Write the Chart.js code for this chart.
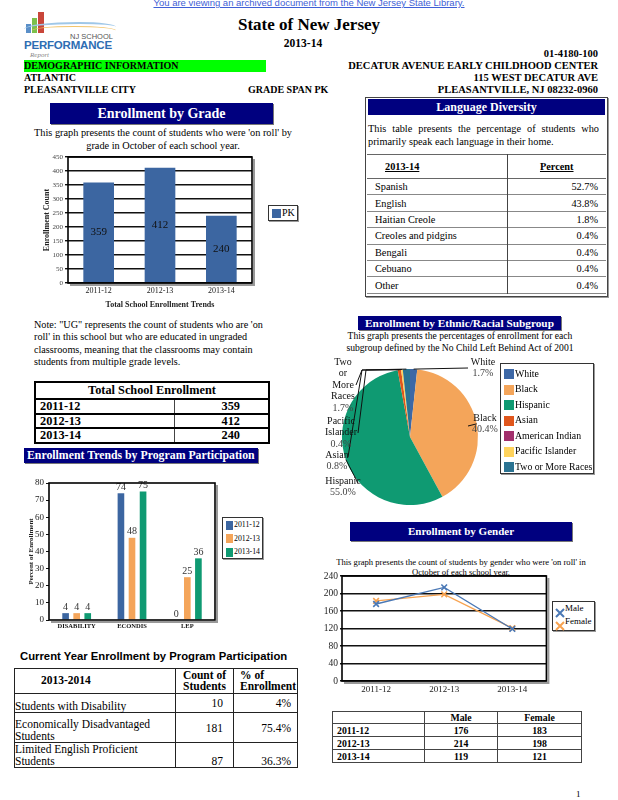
<!DOCTYPE html>
<html>
<head>
<meta charset="utf-8">
<script src="https://cdn.jsdelivr.net/npm/chart.js@4.4.1/dist/chart.umd.min.js"></script>
<style>
body{margin:0;width:618px;height:800px;position:relative;background:#fff;font-family:"Liberation Serif",serif;color:#000;overflow:hidden}
.abs{position:absolute}
.navy{position:absolute;background:#00007f;color:#fff;font-weight:bold;text-align:center;white-space:nowrap;overflow:hidden;box-shadow:1px 1px 0 #777}
.bold{font-weight:bold}
table{border-collapse:collapse;table-layout:fixed;position:absolute}
td{padding:0}
.legend{position:absolute;border:1.5px solid #333;box-shadow:1px 1px 0 #999;background:#fff}
.legend div{position:absolute;white-space:nowrap}
.sw{position:absolute}
</style>
</head>
<body>

<!-- data -->
<script>
var gradeYears = ['2011-12', '2012-13', '2013-14']
var gradeSeries = 'PK'
var gradeCounts = [359, 412, 240]

var langNames = ['Spanish', 'English', 'Haitian Creole', 'Creoles and pidgins', 'Bengali', 'Cebuano', 'Other']
var langPct = [52.7, 43.8, 1.8, 0.4, 0.4, 0.4, 0.4]

var ethnicGroups = ['White', 'Black', 'Hispanic', 'Asian', 'American Indian', 'Pacific Islander', 'Two or More Races']
var ethnicPct = [1.7, 40.4, 55.0, 0.8, 0.0, 0.4, 1.7]

var programCats = ['DISABILITY', 'ECONDIS', 'LEP']
var programYears = ['2011-12', '2012-13', '2013-14']
var program1112 = [4, 74, 0]
var program1213 = [4, 48, 25]
var program1314 = [4, 75, 36]

var currentRows = ['Students with Disability', 'Economically Disadvantaged Students', 'Limited English Proficient Students']
var currentCounts = [10, 181, 87]
var currentPct = [4, 75.4, 36.3]

var genderYears = ['2011-12', '2012-13', '2013-14']
var genderNames = ['Male', 'Female']
var genderMale = [176, 214, 119]
var genderFemale = [183, 198, 121]
</script>

<!-- header -->
<div class="abs" style="left:0;top:-3px;width:618px;text-align:center;font-family:'Liberation Sans',sans-serif;font-size:9.5px;color:#3f5fd6;text-decoration:underline">You are viewing an archived document from the New Jersey State Library.</div>

<div class="abs" style="left:22px;top:8px;width:96px;height:46px">
  <div class="abs" style="left:4px;top:16px;width:5px;height:9px;background:#5a8fc8"></div>
  <div class="abs" style="left:10px;top:10px;width:5px;height:15px;background:#7cc04b"></div>
  <div class="abs" style="left:16px;top:4px;width:6px;height:21px;background:#c9463a"></div>
  <div class="abs" style="left:2px;top:14px;width:92px;height:10px;border-top:2px solid #9fc7e8;border-radius:60% 40% 0 0"></div>
  <div class="abs" style="left:10px;top:18px;width:84px;height:8px;border-top:1.5px solid #f2c46b;border-radius:50% 50% 0 0"></div>
  <div class="abs" style="left:48px;top:24px;font-family:'Liberation Sans',sans-serif;font-size:7.5px;color:#555">NJ SCHOOL</div>
  <div class="abs" style="left:2px;top:31px;font-family:'Liberation Sans',sans-serif;font-size:11.5px;font-weight:bold;color:#2d6db3;letter-spacing:-0.2px">PERFORMANCE</div>
  <div class="abs" style="left:8px;top:43px;font-family:'Liberation Serif',serif;font-style:italic;font-size:7px;color:#888">Report</div>
</div>

<div class="abs bold" style="left:0;top:15px;width:618px;text-align:center;font-size:17px">State of New Jersey</div>
<div class="abs bold" style="left:0;top:37px;width:606px;text-align:center;font-size:11.5px">2013-14</div>

<div class="abs bold" style="right:20px;top:48px;font-size:10.5px">01-4180-100</div>
<div class="abs bold" style="left:24px;top:60px;width:242px;height:12px;background:#00ff00;font-size:10px;line-height:12px">DEMOGRAPHIC INFORMATION</div>
<div class="abs bold" style="right:20px;top:60px;font-size:10.5px">DECATUR AVENUE EARLY CHILDHOOD CENTER</div>
<div class="abs bold" style="left:24px;top:72px;font-size:10px">ATLANTIC</div>
<div class="abs bold" style="right:20px;top:72px;font-size:10.5px">115 WEST DECATUR AVE</div>
<div class="abs bold" style="left:24px;top:84px;font-size:10px">PLEASANTVILLE CITY</div>
<div class="abs bold" style="left:248px;top:84px;font-size:10px">GRADE SPAN PK</div>
<div class="abs bold" style="right:20px;top:84px;font-size:10.5px">PLEASANTVILLE, NJ 08232-0960</div>

<!-- enrollment by grade -->
<div class="navy" style="left:50px;top:103px;width:223px;height:21px;line-height:21px;font-size:14px">Enrollment by Grade</div>
<div class="abs" style="left:30px;top:127px;width:266px;text-align:center;font-size:10.3px;line-height:12.5px">This graph presents the count of students who were 'on roll' by grade in October of each school year.</div>
<canvas id="gradeChart" class="abs" width="236" height="160" style="left:20px;top:150px"></canvas>
<div class="legend" id="gradeLegend" style="left:268px;top:205px;width:28px;height:14px"></div>

<!-- language diversity -->
<div class="abs" style="left:365px;top:97px;width:241px;height:198px;border:1.5px solid #444;box-shadow:1px 1px 0 #999"></div>
<div class="navy" style="left:368px;top:99px;width:237px;height:16px;line-height:16px;font-size:12px;box-shadow:none">Language Diversity</div>
<div class="abs" style="left:368px;top:123px;width:231px;font-size:10.3px;line-height:12.5px;text-align:justify;text-align-last:left">This table presents the percentage of students who primarily speak each language in their home.</div>
<table id="langTable" style="left:367px;top:154px;width:239px;font-size:10.3px"></table>

<!-- note + totals -->
<div class="abs" style="left:34px;top:319px;font-size:10.2px;line-height:12.3px;white-space:nowrap">Note: "UG" represents the count of students who are 'on<br>roll' in this school but who are educated in ungraded<br>classrooms, meaning that the classrooms may contain<br>students from multiple grade levels.</div>
<table id="totalTable" style="left:34px;top:381px;width:236px;font-size:12.3px;font-weight:bold;border:2px solid #000"></table>

<!-- program participation -->
<div class="navy" style="left:24px;top:448px;width:234px;height:15px;line-height:15px;font-size:11.8px;text-align:left">&nbsp;Enrollment Trends by Program Participation</div>
<canvas id="programChart" class="abs" width="210" height="160" style="left:10px;top:475px"></canvas>
<div class="legend" id="programLegend" style="left:222px;top:517px;width:39px;height:40px"></div>

<!-- ethnic pie -->
<div class="navy" style="left:358px;top:316px;width:203px;height:14px;line-height:14px;font-size:11.3px">Enrollment by Ethnic/Racial Subgroup</div>
<div class="abs" style="left:330px;top:330px;width:260px;text-align:center;font-size:9.6px;line-height:11.5px">This graph presents the percentages of enrollment for each<br>subgroup defined by the No Child Left Behind Act of 2001</div>
<canvas id="ethnicChart" class="abs" width="205" height="160" style="left:300px;top:352px"></canvas>
<div class="legend" id="ethnicLegend" style="left:500px;top:363px;width:92px;height:109px"></div>

<!-- gender -->
<div class="navy" style="left:350px;top:522px;width:222px;height:19px;line-height:19px;font-size:11px">Enrollment by Gender</div>
<div class="abs" style="left:320px;top:557px;width:282px;text-align:center;font-size:8.6px;line-height:10px">This graph presents the count of students by gender who were 'on roll' in<br>October of each school year.</div>
<canvas id="genderChart" class="abs" width="234" height="132" style="left:318px;top:568px"></canvas>
<div class="legend" id="genderLegend" style="left:552px;top:601px;width:41px;height:28px"></div>
<table id="genderTable" style="left:332px;top:711px;width:250px;font-size:9.8px;font-weight:bold;border:1.5px solid #444"></table>

<!-- current year table -->
<div class="abs" style="left:20px;top:650px;font-family:'Liberation Sans',sans-serif;font-weight:bold;font-size:11.3px;white-space:nowrap">Current Year Enrollment by Program Participation</div>
<table id="currentTable" style="left:14px;top:668px;width:284px;font-size:11.5px;border:1.5px solid #222"></table>

<div class="abs" style="left:576px;top:789px;font-size:9px">1</div>

<script>
Chart.defaults.font.family = '"Liberation Serif", serif'
Chart.defaults.color = '#222'
Chart.defaults.animation = false
Chart.defaults.responsive = false
Chart.defaults.devicePixelRatio = 1
Chart.defaults.plugins.legend.display = false
Chart.defaults.plugins.tooltip.enabled = false

var blue = '#3c66a1', orange = '#f4a55a', green = '#0f9a72'
var ethnicColors = ['#3d68a6', '#f4a55a', '#0f9a72', '#e0561c', '#a2306c', '#ffd35c', '#2b7392']

// frame around the plot area
Chart.register({
    id: 'frame',
    afterDraw(chart, args, o) {
        if (!o.on) return
        var a = chart.chartArea, c = chart.ctx
        c.save()
        c.strokeStyle = '#999'; c.lineWidth = 2
        c.beginPath()
        c.moveTo(a.left + 2, a.bottom + 2); c.lineTo(a.right + 2, a.bottom + 2); c.lineTo(a.right + 2, a.top + 2)
        c.stroke()
        c.strokeStyle = '#000'; c.lineWidth = 1.6
        c.strokeRect(a.left, a.top, a.right - a.left, a.bottom - a.top)
        c.restore()
    }
})

// numbers on the bars
Chart.register({
    id: 'values',
    afterDatasetsDraw(chart, args, o) {
        if (!o.pos) return
        var c = chart.ctx
        c.save()
        c.font = o.size + 'px "Liberation Serif"'
        c.fillStyle = o.color || '#111'
        c.textAlign = 'center'
        chart.data.datasets.forEach((ds, i) => {
            chart.getDatasetMeta(i).data.forEach((el, j) => {
                var v = ds.data[j]
                if (o.pos == 'mid') {
                    c.textBaseline = 'middle'
                    c.fillText(v, el.x, (el.y + el.base) / 2)
                } else {
                    c.textBaseline = 'bottom'
                    c.fillText(v, el.x, el.y - 1)
                }
            })
        })
        c.restore()
    }
})

// pie labels with leader lines
var pieLabelLayout = {
    'White':             {x: 183, y: 10, side: [168, 16]},
    'Black':             {x: 185, y: 66, side: [168, 74]},
    'Hispanic':          {x: 43, y: 129, side: [58, 131]},
    'Asian':             {x: 37, y: 103, side: [48, 105], elbow: [62, 18]},
    'Pacific Islander':  {x: 41, y: 69, side: [58, 81], elbow: [66, 18]},
    'Two or More Races': {x: 43, y: 10, side: [56, 33], elbow: [62, 18]}
}
Chart.register({
    id: 'pieLabels',
    afterDatasetsDraw(chart, args, o) {
        if (!o.on) return
        var c = chart.ctx, ds = chart.data.datasets[0]
        c.save()
        c.font = '10px "Liberation Serif"'
        c.textAlign = 'center'
        c.textBaseline = 'middle'
        chart.getDatasetMeta(0).data.forEach((el, i) => {
            var name = chart.data.labels[i]
            var L = pieLabelLayout[name]
            if (!L || !ds.data[i]) return
            var mid = (el.startAngle + el.endAngle) / 2
            var px = el.x + Math.cos(mid) * el.outerRadius
            var py = el.y + Math.sin(mid) * el.outerRadius
            c.strokeStyle = '#111'; c.lineWidth = 1
            c.beginPath()
            c.moveTo(L.side[0], L.side[1])
            if (L.elbow) {
                c.lineTo(L.elbow[0], L.elbow[1])
                c.lineTo(px, L.elbow[1] < py ? L.elbow[1] : py)
            }
            c.lineTo(px, py)
            c.stroke()
            var lines = name.split(' ').concat([ds.data[i].toFixed(1) + '%'])
            lines.forEach((t, k) => {
                c.fillStyle = k == lines.length - 1 ? '#444' : '#111'
                c.fillText(t, L.x, L.y + k * 11.6)
            })
        })
        c.restore()
    }
})

new Chart(document.getElementById('gradeChart'), {
    type: 'bar',
    data: {
        labels: gradeYears,
        datasets: [{label: gradeSeries, data: gradeCounts, backgroundColor: blue, barPercentage: 0.5, categoryPercentage: 1}]
    },
    options: {
        layout: {padding: {top: 7, right: 4}},
        plugins: {frame: {on: true}, values: {pos: 'mid', size: 11}},
        scales: {
            x: {
                grid: {display: false, drawTicks: false}, border: {display: false},
                ticks: {font: {size: 8}, padding: 3},
                title: {display: true, text: 'Total School Enrollment Trends', font: {size: 8, weight: 'bold'}, padding: {top: 3, bottom: 0}},
                afterFit(s) { s.height = 27 }
            },
            y: {
                min: 0, max: 450,
                ticks: {stepSize: 50, font: {size: 7}, color: '#444', padding: 2},
                grid: {color: '#111', lineWidth: 1.4, tickLength: 3},
                border: {display: false},
                title: {display: true, text: 'Enrollment Count', font: {size: 8, weight: 'bold'}, padding: {top: 22, bottom: 0}},
                afterFit(s) { s.width = 48 }
            }
        }
    }
})

new Chart(document.getElementById('programChart'), {
    type: 'bar',
    data: {
        labels: programCats,
        datasets: [
            {label: programYears[0], data: program1112, backgroundColor: blue},
            {label: programYears[1], data: program1213, backgroundColor: orange},
            {label: programYears[2], data: program1314, backgroundColor: green}
        ]
    },
    options: {
        layout: {padding: {top: 8, right: 5}},
        datasets: {bar: {categoryPercentage: 0.6, barPercentage: 0.6}},
        plugins: {frame: {on: true}, values: {pos: 'top', size: 10, color: '#333'}},
        scales: {
            x: {
                grid: {display: false, drawTicks: false}, border: {display: false},
                ticks: {font: {size: 6.5, weight: 'bold'}, color: '#111', padding: 2},
                afterFit(s) { s.height = 15 }
            },
            y: {
                min: 0, max: 80,
                ticks: {stepSize: 10, font: {size: 9}, padding: 2},
                grid: {drawOnChartArea: false, color: '#111', tickLength: 3},
                border: {display: false},
                title: {display: true, text: 'Percent of Enrollment', font: {size: 7, weight: 'bold'}, padding: {top: 17, bottom: 0}},
                afterFit(s) { s.width = 39 }
            }
        }
    }
})

new Chart(document.getElementById('ethnicChart'), {
    type: 'pie',
    data: {
        labels: ethnicGroups,
        datasets: [{data: ethnicPct, backgroundColor: ethnicColors, borderWidth: 0}]
    },
    options: {
        layout: {padding: {left: 42, right: 27, top: 17, bottom: 7}},
        plugins: {pieLabels: {on: true}}
    }
})

new Chart(document.getElementById('genderChart'), {
    type: 'line',
    data: {
        labels: genderYears,
        datasets: [
            {label: genderNames[0], data: genderMale, borderColor: '#4a78b5', backgroundColor: '#4a78b5', borderWidth: 1.3,
             pointStyle: 'crossRot', pointRadius: 4, pointBorderWidth: 1.6},
            {label: genderNames[1], data: genderFemale, borderColor: '#f7a24f', backgroundColor: '#f7a24f', borderWidth: 1.3,
             pointStyle: 'crossRot', pointRadius: 4, pointBorderWidth: 1.6}
        ]
    },
    options: {
        layout: {padding: {top: 8, right: 5}},
        plugins: {frame: {on: true}},
        scales: {
            x: {
                offset: true,
                grid: {display: false, drawTicks: false}, border: {display: false},
                ticks: {font: {size: 9}, padding: 3},
                afterFit(s) { s.height = 19 }
            },
            y: {
                min: 0, max: 240,
                ticks: {stepSize: 40, font: {size: 9.5}, padding: 2},
                grid: {color: '#111', lineWidth: 1.4, tickLength: 2},
                border: {display: false},
                afterFit(s) { s.width = 24 }
            }
        }
    }
})

// legends
function legendBox(id, items, top0, step, swW, swH, textLeft, size) {
    var box = document.getElementById(id)
    items.forEach((it, i) => {
        var y = top0 + i * step
        var sw = document.createElement('div')
        if (it.cross) {
            sw.innerHTML = '<svg width="10" height="10"><path d="M1 1L9 9M9 1L1 9" stroke="' + it.color + '" stroke-width="2"/></svg>'
            sw.style.cssText = 'left:2px;top:' + (y - 5) + 'px'
        } else {
            sw.className = 'sw'
            sw.style.cssText = 'left:3px;top:' + (y - swH / 2) + 'px;width:' + swW + 'px;height:' + swH + 'px;background:' + it.color
        }
        box.appendChild(sw)
        var t = document.createElement('div')
        t.textContent = it.label
        t.style.cssText = 'left:' + textLeft + 'px;top:' + (y - size * 0.62) + 'px;font-size:' + size + 'px'
        box.appendChild(t)
    })
}
legendBox('gradeLegend', [{label: gradeSeries, color: blue}], 7, 0, 9, 9, 13, 10)
legendBox('programLegend', [
    {label: programYears[0], color: blue}, {label: programYears[1], color: orange}, {label: programYears[2], color: green}
], 7, 13.5, 7, 9, 11, 7.8)
legendBox('ethnicLegend', ethnicGroups.map((g, i) => ({label: g, color: ethnicColors[i]})), 10, 15.5, 10, 10, 14, 9.8)
legendBox('genderLegend', [{label: genderNames[0], color: '#4a78b5', cross: true}, {label: genderNames[1], color: '#f7a24f', cross: true}], 7, 13, 8, 8, 12, 9)

// tables
var h = ''
h += '<col style="width:140px"><col>'
h += '<tr style="height:24px;border-top:1px solid #666;border-bottom:1px solid #666"><td style="padding-left:18px;font-weight:bold;text-decoration:underline">2013-14</td>' +
     '<td style="border-left:1.5px solid #444;text-align:center;font-weight:bold;text-decoration:underline">Percent</td></tr>'
langNames.forEach((n, i) => {
    h += '<tr style="height:16.4px;border-bottom:1px solid #888"><td style="padding-left:8px">' + n + '</td>' +
         '<td style="border-left:1.5px solid #444;text-align:right;padding-right:8px">' + langPct[i].toFixed(1) + '%</td></tr>'
})
document.getElementById('langTable').innerHTML = h

h = '<col style="width:139px"><col>'
h += '<tr style="height:14px;border-bottom:2px solid #000"><td colspan="2" style="text-align:center">Total School Enrollment</td></tr>'
gradeYears.forEach((y, i) => {
    h += '<tr style="height:14.5px;border-bottom:2px solid #000"><td style="padding-left:4px;line-height:12px">' + y + '</td>' +
         '<td style="border-left:1px solid #444;text-align:right;padding-right:28px;line-height:12px">' + gradeCounts[i] + '</td></tr>'
})
document.getElementById('totalTable').innerHTML = h

h = '<col style="width:92px"><col style="width:73px"><col>'
h += '<tr style="height:11px;border-bottom:1.5px solid #444"><td></td><td style="border-left:1.5px solid #444;text-align:center">' + genderNames[0] +
     '</td><td style="border-left:1.5px solid #444;text-align:center">' + genderNames[1] + '</td></tr>'
genderYears.forEach((y, i) => {
    h += '<tr style="height:13px;border-bottom:1.5px solid #444"><td style="padding-left:4px">' + y + '</td>' +
         '<td style="border-left:1.5px solid #444;text-align:center">' + genderMale[i] + '</td>' +
         '<td style="border-left:1.5px solid #444;text-align:center">' + genderFemale[i] + '</td></tr>'
})
document.getElementById('genderTable').innerHTML = h

h = '<col style="width:161px"><col style="width:58px"><col>'
h += '<tr style="height:25px;border-bottom:1.5px solid #222;font-weight:bold;line-height:11.5px"><td style="padding-left:26px">2013-2014</td>' +
     '<td style="border-left:1.5px solid #222;text-align:center">Count of<br>Students</td>' +
     '<td style="border-left:1.5px solid #222;padding-left:6px">% of<br>Enrollment</td></tr>'
var rowH = [19, 30, 23]
currentRows.forEach((r, i) => {
    var p = Number.isInteger(currentPct[i]) ? currentPct[i] + '%' : currentPct[i].toFixed(1) + '%'
    h += '<tr style="height:' + rowH[i] + 'px;border-bottom:1.5px solid #222;line-height:12px"><td style="vertical-align:bottom">' + r + '</td>' +
         '<td style="border-left:1.5px solid #222;text-align:right;padding-right:10px;vertical-align:' + (i == 2 ? 'bottom' : 'middle') + '">' + currentCounts[i] + '</td>' +
         '<td style="border-left:1.5px solid #222;text-align:right;padding-right:6px;vertical-align:' + (i == 2 ? 'bottom' : 'middle') + '">' + p + '</td></tr>'
})
document.getElementById('currentTable').innerHTML = h
</script>
</body>
</html>
